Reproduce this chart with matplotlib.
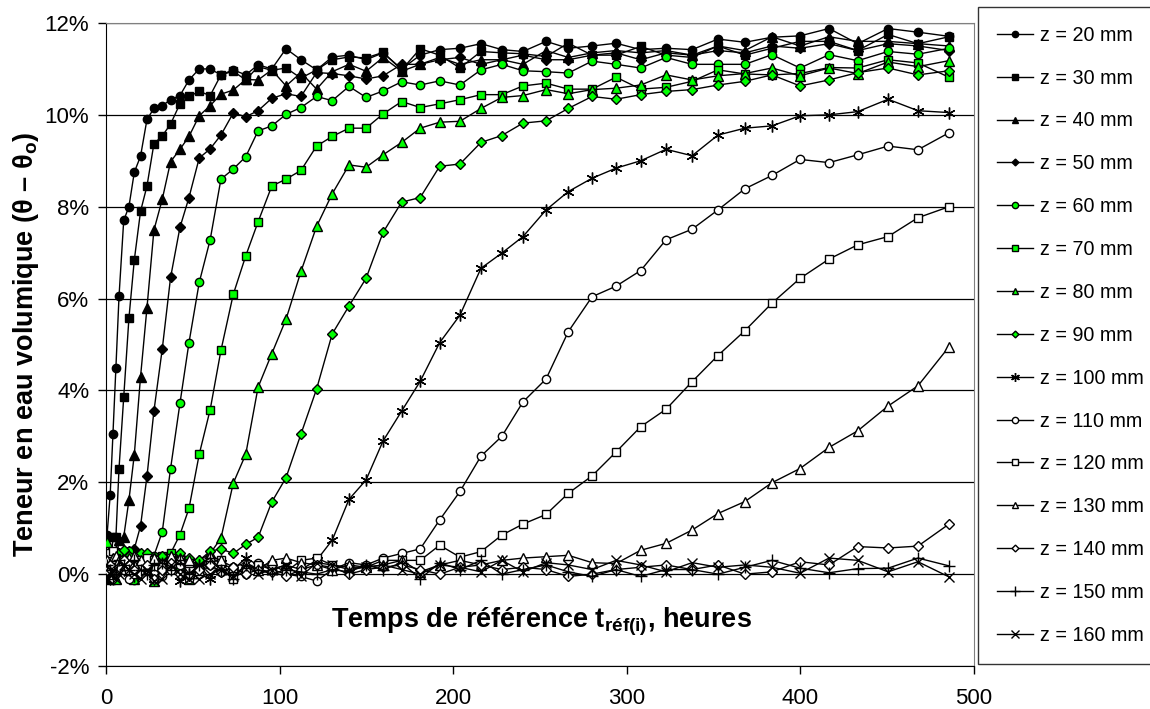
import matplotlib
matplotlib.use("Agg")
import matplotlib.pyplot as plt
from matplotlib.ticker import FuncFormatter

plt.rcParams['font.family'] = 'Liberation Sans'
plt.rcParams['font.size'] = 14.5
plt.rcParams['mathtext.fontset'] = 'custom'
plt.rcParams['mathtext.rm'] = 'Liberation Sans:bold'
plt.rcParams['mathtext.it'] = 'Liberation Sans:bold'
plt.rcParams['mathtext.bf'] = 'Liberation Sans:bold'

# reference times (hours), shared by every depth
t_ref = [0.6, 2.4, 4.0, 5.7, 7.5, 10.2, 13.2, 16.3, 19.9, 23.6, 27.6, 32.4, 37.2, 42.6,
         47.8, 53.7, 60.0, 66.2, 73.3, 80.5, 87.6, 95.5, 103.7, 112.3, 121.3, 130.3,
         140.0, 149.8, 159.6, 170.3, 181.0, 192.2, 203.9, 216.0, 228.0, 240.2, 253.5,
         266.3, 280.0, 293.8, 308.0, 322.6, 337.6, 352.5, 368.0, 383.6, 399.8, 416.5,
         433.0, 450.5, 467.7, 485.6]

# water content change (%) per depth
z20 = [0.85, 1.72, 3.05, 4.49, 6.05, 7.7, 8.0, 8.75, 9.1, 9.9, 10.14, 10.2, 10.33, 10.42,
       10.76, 11.0, 11.0, 10.87, 10.98, 10.87, 11.09, 11.0, 11.44, 11.2, 10.98, 11.26,
       11.3, 11.2, 11.35, 11.0, 11.3, 11.42, 11.45, 11.55, 11.42, 11.38, 11.6, 11.45,
       11.5, 11.56, 11.42, 11.45, 11.42, 11.65, 11.58, 11.69, 11.72, 11.88, 11.55,
       11.88, 11.8, 11.71]
z30 = [-0.1, 0.0, 0.8, 0.8, 2.3, 3.85, 5.57, 6.84, 7.9, 8.45, 9.37, 9.54, 9.8, 10.24,
       10.4, 10.51, 10.42, 10.87, 10.95, 10.76, 11.05, 10.97, 11.02, 10.8, 10.98, 11.2,
       11.26, 11.24, 11.36, 10.98, 11.44, 11.3, 11.02, 11.38, 11.35, 11.33, 11.27, 11.56,
       11.3, 11.3, 11.49, 11.3, 11.25, 11.5, 11.3, 11.45, 11.6, 11.6, 11.4, 11.75, 11.55,
       11.7]
z40 = [0.0, -0.1, 0.1, 0.2, 0.75, 0.81, 1.61, 2.6, 4.3, 5.8, 7.49, 8.16, 8.98, 9.25,
       9.53, 9.98, 10.2, 10.45, 10.54, 10.77, 10.76, 10.98, 10.63, 10.92, 10.56, 10.94,
       11.1, 10.95, 11.25, 10.95, 11.1, 11.25, 11.1, 11.2, 11.2, 11.1, 11.4, 11.25, 11.35,
       11.4, 11.35, 11.4, 11.3, 11.5, 11.4, 11.7, 11.5, 11.7, 11.6, 11.6, 11.55, 11.5]
z50 = [-0.1, 0.0, 0.1, 0.2, 0.3, 0.3, 0.5, 0.55, 1.05, 2.13, 3.55, 4.9, 6.46, 7.55, 8.2,
       9.06, 9.26, 9.56, 10.04, 9.96, 10.09, 10.36, 10.46, 10.4, 10.92, 10.9, 10.85,
       10.78, 10.85, 11.1, 11.1, 11.2, 11.25, 11.1, 11.2, 11.3, 11.2, 11.2, 11.3, 11.35,
       11.2, 11.35, 11.3, 11.4, 11.35, 11.5, 11.45, 11.55, 11.4, 11.55, 11.5, 11.4]
z60 = [0.1, 0.3, 0.2, 0.2, 0.3, 0.4, 0.5, -0.13, 0.3, 0.4, 0.4, 0.92, 2.3, 3.72, 5.04,
       6.35, 7.28, 8.6, 8.82, 9.09, 9.65, 9.76, 10.01, 10.16, 10.4, 10.31, 10.62, 10.38,
       10.52, 10.72, 10.65, 10.74, 10.65, 10.98, 11.1, 10.96, 10.94, 10.91, 11.17, 11.1,
       11.02, 11.25, 11.1, 11.1, 11.1, 11.31, 11.02, 11.31, 11.18, 11.38, 11.32, 11.45]
z70 = [0.2, 0.1, 0.3, 0.2, 0.4, 0.2, 0.3, 0.2, 0.3, 0.4, 0.3, 0.4, 0.45, 0.86, 1.43,
       2.61, 3.58, 4.87, 6.09, 6.93, 7.67, 8.45, 8.6, 8.79, 9.32, 9.53, 9.71, 9.71, 10.02,
       10.29, 10.16, 10.24, 10.33, 10.44, 10.44, 10.63, 10.69, 10.56, 10.56, 10.82, 10.56,
       10.6, 10.73, 10.98, 10.89, 10.87, 10.9, 11.03, 11.02, 11.2, 11.13, 10.82]
z80 = [0.7, 0.4, 0.1, -0.1, 0.2, 0.3, 0.1, -0.1, 0.35, 0.2, -0.15, 0.3, 0.4, 0.2, -0.1,
       0.3, 0.45, 0.78, 1.98, 2.61, 4.07, 4.8, 5.55, 6.59, 7.57, 8.28, 8.91, 8.86, 9.13,
       9.4, 9.71, 9.84, 9.86, 10.14, 10.38, 10.42, 10.55, 10.46, 10.55, 10.58, 10.65,
       10.87, 10.76, 10.85, 10.9, 11.02, 10.85, 11.02, 10.9, 11.15, 11.05, 11.18]
z90 = [0.2, 0.3, 0.4, 0.5, 0.45, 0.52, 0.4, 0.3, 0.45, 0.46, 0.35, 0.4, 0.3, 0.45, 0.35,
       0.3, 0.5, 0.55, 0.45, 0.65, 0.8, 1.57, 2.1, 3.05, 4.03, 5.23, 5.84, 6.44, 7.44,
       8.1, 8.2, 8.88, 8.93, 9.4, 9.55, 9.82, 9.87, 10.14, 10.4, 10.34, 10.44, 10.51,
       10.55, 10.65, 10.73, 10.87, 10.63, 10.76, 10.92, 11.02, 10.87, 10.96]
z100 = [0.1, -0.1, 0.0, 0.2, 0.3, 0.1, 0.2, -0.05, 0.2, 0.1, -0.1, 0.15, 0.3, -0.15, 0.0,
        0.2, -0.1, 0.25, 0.1, 0.35, 0.2, 0.1, 0.2, 0.1, 0.3, 0.74, 1.63, 2.05, 2.9, 3.55,
        4.2, 5.04, 5.64, 6.66, 6.99, 7.35, 7.93, 8.33, 8.62, 8.84, 9.0, 9.25, 9.11, 9.56,
        9.71, 9.76, 9.98, 10.0, 10.07, 10.34, 10.09, 10.05]
z110 = [0.2, 0.3, 0.1, 0.25, 0.2, 0.1, -0.1, 0.0, 0.15, 0.2, 0.0, -0.05, 0.1, 0.2, -0.1,
        0.0, 0.2, 0.05, 0.15, 0.0, 0.25, 0.1, 0.0, -0.05, -0.15, 0.1, 0.25, 0.2, 0.35,
        0.45, 0.55, 1.18, 1.8, 2.57, 3.0, 3.75, 4.25, 5.28, 6.04, 6.27, 6.61, 7.28, 7.51,
        7.93, 8.39, 8.68, 9.03, 8.96, 9.13, 9.32, 9.24, 9.61]
z120 = [0.3, 0.45, 0.5, 0.35, 0.2, 0.3, 0.1, 0.2, 0.3, 0.35, 0.3, 0.2, 0.35, 0.3, 0.25,
        0.1, 0.3, 0.3, -0.1, 0.1, 0.2, 0.2, 0.05, 0.3, 0.35, 0.2, 0.15, 0.15, 0.3, 0.3,
        0.3, 0.63, 0.37, 0.49, 0.85, 1.09, 1.3, 1.76, 2.14, 2.66, 3.21, 3.59, 4.19, 4.76,
        5.3, 5.9, 6.44, 6.86, 7.17, 7.35, 7.76, 8.0]
z130 = [0.3, 0.2, 0.35, 0.4, 0.3, 0.2, 0.35, 0.4, 0.3, 0.1, 0.35, 0.25, 0.4, 0.35, 0.3,
        0.1, 0.4, 0.3, 0.15, 0.25, 0.1, 0.3, 0.35, 0.25, 0.2, 0.1, 0.2, 0.15, 0.2, 0.3,
        0.05, 0.2, 0.3, 0.2, 0.3, 0.35, 0.38, 0.41, 0.25, 0.23, 0.52, 0.67, 0.96, 1.32,
        1.58, 1.99, 2.3, 2.76, 3.12, 3.66, 4.1, 4.95]
z140 = [0.1, 0.2, -0.1, 0.0, 0.15, 0.3, 0.2, 0.1, 0.0, 0.2, -0.1, 0.1, 0.25, 0.0, -0.05,
        0.1, 0.2, 0.05, 0.15, 0.0, 0.1, 0.05, -0.05, 0.1, 0.2, 0.15, 0.0, 0.1, 0.15, 0.2,
        0.1, 0.0, 0.15, 0.2, 0.1, 0.15, 0.1, -0.05, 0.0, 0.1, 0.15, 0.2, 0.1, 0.2, 0.0,
        0.05, 0.27, 0.2, 0.6, 0.57, 0.61, 1.09]
z150 = [0.2, 0.1, -0.1, 0.0, 0.3, 0.2, 0.1, 0.3, 0.1, 0.0, 0.2, 0.25, 0.1, 0.3, 0.0, 0.2,
        0.35, 0.1, -0.1, 0.2, 0.1, 0.0, 0.1, 0.05, 0.0, 0.1, 0.05, 0.2, 0.1, 0.25, -0.1,
        0.25, 0.1, 0.3, 0.0, 0.1, 0.2, 0.05, -0.05, 0.1, -0.05, 0.1, 0.1, 0.0, 0.15, 0.3,
        0.13, 0.03, 0.12, 0.13, 0.35, 0.18]
z160 = [-0.1, 0.0, 0.1, -0.1, 0.0, 0.2, 0.1, 0.0, -0.1, 0.1, -0.15, -0.1, 0.2, 0.0, -0.1,
        -0.1, 0.0, 0.1, -0.05, 0.2, 0.0, 0.1, 0.2, -0.05, 0.25, 0.2, 0.1, 0.15, 0.2, 0.1,
        0.0, 0.2, 0.15, 0.05, 0.3, 0.05, 0.25, 0.2, 0.1, 0.3, 0.2, 0.05, 0.25, 0.15, 0.2,
        0.15, 0.02, 0.35, 0.3, 0.05, 0.27, -0.06]

depths = [20, 30, 40, 50, 60, 70, 80, 90, 100, 110, 120, 130, 140, 150, 160]
series = [z20, z30, z40, z50, z60, z70, z80, z90, z100, z110, z120, z130, z140, z150, z160]

green = '#00FF00'
styles = [
    ('o', 'black', 6.0), ('s', 'black', 5.6), ('^', 'black', 6.6), ('D', 'black', 4.6),
    ('o', green, 6.0), ('s', green, 5.6), ('^', green, 6.6), ('D', green, 4.6),
    ((6, 2, 0), 'black', 8.5),
    ('o', 'white', 6.0), ('s', 'white', 5.6), ('^', 'white', 6.6), ('D', 'white', 4.6),
    ('+', 'black', 9.0), ('x', 'black', 7.0),
]

fig = plt.figure(figsize=(11.5, 7.09), dpi=100)
ax = fig.add_axes([106 / 1150, 1 - 666 / 709, (974 - 106) / 1150, (666 - 23) / 709])

for i, (z, vals) in enumerate(zip(depths, series)):
    m, fc, ms = styles[i]
    ax.plot(t_ref, vals, color='black', lw=1.0, marker=m, markersize=ms,
            markerfacecolor=fc, markeredgecolor='black', markeredgewidth=1.0,
            label=f'z = {z} mm', zorder=3 + i)

ax.set_xlim(0, 500)
ax.set_ylim(-2, 12)
ax.set_xticks(range(0, 501, 100))
ax.set_yticks(range(-2, 13, 2))
ax.yaxis.set_major_formatter(FuncFormatter(lambda v, p: f'{v:.0f}%'))
ax.tick_params(direction='out', length=6, width=1.0, color='black', labelsize=16)
ax.tick_params(axis='x', pad=10)
ax.tick_params(axis='y', pad=6)
ax.grid(axis='y', color='black', lw=0.9, zorder=1)
ax.set_axisbelow(True)
ax.spines['top'].set_color('#808080')
ax.spines['right'].set_color('#808080')
ax.spines['left'].set_color('black')
ax.spines['bottom'].set_color('black')

ax.set_ylabel('Teneur en eau volumique (θ – θ$_{\\mathrm{o}}$)', fontweight='bold',
              fontsize=19.5, labelpad=3)
ax.text(0.502, 0.068, 'Temps de référence t$_{\\mathrm{réf(i)}}$, heures',
        transform=ax.transAxes, ha='center', va='center', fontweight='bold',
        fontsize=19.5)

leg = fig.legend(loc='upper left', bbox_to_anchor=(978 / 1150, 1 - 7 / 709),
                 frameon=True, fancybox=False, edgecolor='black', fontsize=14.2,
                 handlelength=1.85, handletextpad=0.35, labelspacing=1.21,
                 borderpad=0.95, borderaxespad=0, markerscale=0.75)
leg.get_frame().set_linewidth(1.0)

fig.savefig('out.png', dpi=100)
